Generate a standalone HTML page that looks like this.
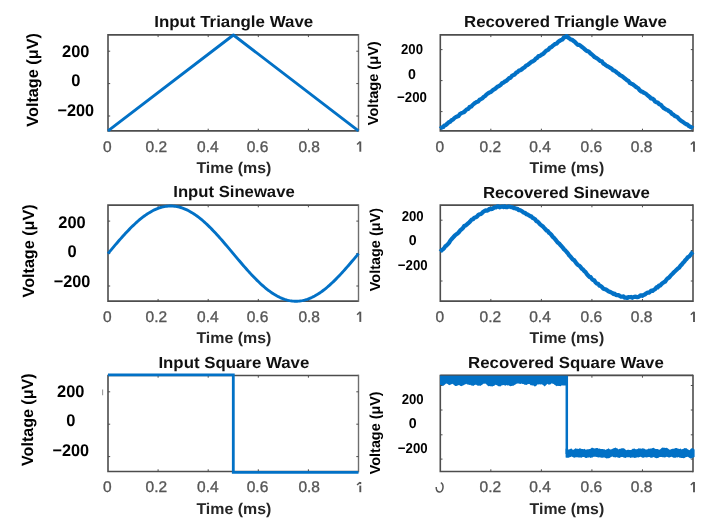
<!DOCTYPE html>
<html><head><meta charset="utf-8"><style>
html,body{margin:0;padding:0;background:#fff;}
svg{display:block;font-family:"Liberation Sans",sans-serif;text-rendering:geometricPrecision;filter:blur(0.3px);}
</style></head><body>
<svg width="709" height="525" viewBox="0 0 709 525">
<rect width="709" height="525" fill="#fff"/>
<path d="M108.0 34.9H358.5M108.0 130.9H358.5M108.0 34.1V131.70000000000002" fill="none" stroke="#4d4d4d" stroke-width="1.6"/>
<path d="M358.5 34.1V131.70000000000002" fill="none" stroke="#6e6e6e" stroke-width="1.4"/>
<path d="M158.10 130.9v-2.2M158.10 34.9v2.2M208.20 130.9v-2.2M208.20 34.9v2.2M258.30 130.9v-2.2M258.30 34.9v2.2M308.40 130.9v-2.2M308.40 34.9v2.2M108.0 51.2h2.2M358.5 51.2h-2.2M108.0 83.6h2.2M358.5 83.6h-2.2M108.0 116.0h2.2M358.5 116.0h-2.2" stroke="#4d4d4d" stroke-width="1.0" fill="none"/>
<path d="M440.3 34.9H693.0M440.3 130.9H693.0M440.3 34.1V131.70000000000002" fill="none" stroke="#4d4d4d" stroke-width="1.6"/>
<path d="M693.0 34.1V131.70000000000002" fill="none" stroke="#4d4d4d" stroke-width="1.6"/>
<path d="M490.84 130.9v-2.2M490.84 34.9v2.2M541.38 130.9v-2.2M541.38 34.9v2.2M591.92 130.9v-2.2M591.92 34.9v2.2M642.46 130.9v-2.2M642.46 34.9v2.2M440.3 49.6h2.2M693.0 49.6h-2.2M440.3 80.6h2.2M693.0 80.6h-2.2M440.3 111.6h2.2M693.0 111.6h-2.2" stroke="#4d4d4d" stroke-width="1.0" fill="none"/>
<path d="M108.0 205.1H358.5M108.0 301.15H358.5M108.0 204.29999999999998V301.95" fill="none" stroke="#4d4d4d" stroke-width="1.6"/>
<path d="M358.5 204.29999999999998V301.95" fill="none" stroke="#6e6e6e" stroke-width="1.4"/>
<path d="M158.10 301.15v-2.2M158.10 205.1v2.2M208.20 301.15v-2.2M208.20 205.1v2.2M258.30 301.15v-2.2M258.30 205.1v2.2M308.40 301.15v-2.2M308.40 205.1v2.2M108.0 221.1h2.2M358.5 221.1h-2.2M108.0 253.5h2.2M358.5 253.5h-2.2M108.0 286.0h2.2M358.5 286.0h-2.2" stroke="#4d4d4d" stroke-width="1.0" fill="none"/>
<path d="M440.3 205.1H693.0M440.3 301.15H693.0M440.3 204.29999999999998V301.95" fill="none" stroke="#4d4d4d" stroke-width="1.6"/>
<path d="M693.0 204.29999999999998V301.95" fill="none" stroke="#4d4d4d" stroke-width="1.6"/>
<path d="M490.84 301.15v-2.2M490.84 205.1v2.2M541.38 301.15v-2.2M541.38 205.1v2.2M591.92 301.15v-2.2M591.92 205.1v2.2M642.46 301.15v-2.2M642.46 205.1v2.2M440.3 220.2h2.2M693.0 220.2h-2.2M440.3 250.6h2.2M693.0 250.6h-2.2M440.3 281.0h2.2M693.0 281.0h-2.2" stroke="#4d4d4d" stroke-width="1.0" fill="none"/>
<path d="M108.0 375.5H358.5M108.0 471.5H358.5M108.0 374.7V472.3" fill="none" stroke="#4d4d4d" stroke-width="1.6"/>
<path d="M358.5 374.7V472.3" fill="none" stroke="#6e6e6e" stroke-width="1.4"/>
<path d="M158.10 471.5v-2.2M158.10 375.5v2.2M208.20 471.5v-2.2M208.20 375.5v2.2M258.30 471.5v-2.2M258.30 375.5v2.2M308.40 471.5v-2.2M308.40 375.5v2.2M108.0 391.8h2.2M358.5 391.8h-2.2M108.0 424.2h2.2M358.5 424.2h-2.2M108.0 456.6h2.2M358.5 456.6h-2.2" stroke="#4d4d4d" stroke-width="1.0" fill="none"/>
<path d="M440.3 375.5H693.0M440.3 471.5H693.0M440.3 374.7V472.3" fill="none" stroke="#4d4d4d" stroke-width="1.6"/>
<path d="M693.0 374.7V472.3" fill="none" stroke="#4d4d4d" stroke-width="1.6"/>
<path d="M490.84 471.5v-2.2M490.84 375.5v2.2M541.38 471.5v-2.2M541.38 375.5v2.2M591.92 471.5v-2.2M591.92 375.5v2.2M642.46 471.5v-2.2M642.46 375.5v2.2M440.3 385.5h2.2M693.0 385.5h-2.2M440.3 410.0h2.2M693.0 410.0h-2.2M440.3 434.8h2.2M693.0 434.8h-2.2M440.3 459.1h2.2M693.0 459.1h-2.2" stroke="#4d4d4d" stroke-width="1.0" fill="none"/>
<path d="M108.0 130.8 L233.4 35.0 L358.5 130.8" stroke="#0271c6" stroke-width="2.9" fill="none" stroke-linejoin="round"/>
<path d="M108.00 253.60 L109.25 252.10 L110.50 250.61 L111.76 249.12 L113.01 247.63 L114.26 246.15 L115.52 244.68 L116.77 243.22 L118.02 241.76 L119.27 240.32 L120.53 238.89 L121.78 237.48 L123.03 236.08 L124.28 234.70 L125.53 233.33 L126.79 231.99 L128.04 230.67 L129.29 229.37 L130.54 228.09 L131.80 226.84 L133.05 225.62 L134.30 224.43 L135.56 223.26 L136.81 222.12 L138.06 221.02 L139.31 219.94 L140.56 218.90 L141.82 217.89 L143.07 216.92 L144.32 215.99 L145.57 215.09 L146.83 214.23 L148.08 213.41 L149.33 212.63 L150.59 211.89 L151.84 211.19 L153.09 210.53 L154.34 209.91 L155.59 209.34 L156.85 208.81 L158.10 208.33 L159.35 207.89 L160.60 207.50 L161.86 207.15 L163.11 206.84 L164.36 206.59 L165.62 206.38 L166.87 206.21 L168.12 206.09 L169.37 206.02 L170.62 206.00 L171.88 206.02 L173.13 206.09 L174.38 206.21 L175.63 206.38 L176.89 206.59 L178.14 206.84 L179.39 207.15 L180.64 207.50 L181.90 207.89 L183.15 208.33 L184.40 208.81 L185.66 209.34 L186.91 209.91 L188.16 210.53 L189.41 211.19 L190.67 211.89 L191.92 212.63 L193.17 213.41 L194.42 214.23 L195.68 215.09 L196.93 215.99 L198.18 216.92 L199.43 217.89 L200.69 218.90 L201.94 219.94 L203.19 221.02 L204.44 222.12 L205.69 223.26 L206.95 224.43 L208.20 225.62 L209.45 226.84 L210.70 228.09 L211.96 229.37 L213.21 230.67 L214.46 231.99 L215.72 233.33 L216.97 234.70 L218.22 236.08 L219.47 237.48 L220.73 238.89 L221.98 240.32 L223.23 241.76 L224.48 243.22 L225.74 244.68 L226.99 246.15 L228.24 247.63 L229.49 249.12 L230.75 250.61 L232.00 252.10 L233.25 253.60 L234.50 255.10 L235.75 256.59 L237.01 258.08 L238.26 259.57 L239.51 261.05 L240.77 262.52 L242.02 263.98 L243.27 265.44 L244.52 266.88 L245.78 268.31 L247.03 269.72 L248.28 271.12 L249.53 272.50 L250.78 273.87 L252.04 275.21 L253.29 276.53 L254.54 277.83 L255.79 279.11 L257.05 280.36 L258.30 281.58 L259.55 282.77 L260.81 283.94 L262.06 285.08 L263.31 286.18 L264.56 287.26 L265.81 288.30 L267.07 289.31 L268.32 290.28 L269.57 291.21 L270.83 292.11 L272.08 292.97 L273.33 293.79 L274.58 294.57 L275.84 295.31 L277.09 296.01 L278.34 296.67 L279.59 297.29 L280.85 297.86 L282.10 298.39 L283.35 298.87 L284.60 299.31 L285.86 299.70 L287.11 300.05 L288.36 300.36 L289.61 300.61 L290.87 300.82 L292.12 300.99 L293.37 301.11 L294.62 301.18 L295.88 301.20 L297.13 301.18 L298.38 301.11 L299.63 300.99 L300.88 300.82 L302.14 300.61 L303.39 300.36 L304.64 300.05 L305.89 299.70 L307.15 299.31 L308.40 298.87 L309.65 298.39 L310.90 297.86 L312.16 297.29 L313.41 296.67 L314.66 296.01 L315.91 295.31 L317.17 294.57 L318.42 293.79 L319.67 292.97 L320.92 292.11 L322.18 291.21 L323.43 290.28 L324.68 289.31 L325.94 288.30 L327.19 287.26 L328.44 286.18 L329.69 285.08 L330.94 283.94 L332.20 282.77 L333.45 281.58 L334.70 280.36 L335.96 279.11 L337.21 277.83 L338.46 276.53 L339.71 275.21 L340.97 273.87 L342.22 272.50 L343.47 271.12 L344.72 269.72 L345.98 268.31 L347.23 266.88 L348.48 265.44 L349.73 263.98 L350.99 262.52 L352.24 261.05 L353.49 259.57 L354.74 258.08 L356.00 256.59 L357.25 255.10 L358.50 253.60" stroke="#0271c6" stroke-width="2.9" fill="none"/>
<path d="M108.0 374.9 H233.3 V472.4 H358.5" stroke="#0271c6" stroke-width="2.8" fill="none"/>
<path d="M440.30 128.79 L441.70 127.55 L443.11 127.11 L444.51 125.39 L445.92 124.91 L447.32 123.67 L448.72 122.27 L450.13 121.78 L451.53 120.18 L452.94 119.62 L454.34 118.15 L455.74 117.14 L457.15 116.51 L458.55 115.96 L459.95 114.08 L461.36 113.17 L462.76 112.62 L464.17 111.97 L465.57 110.49 L466.97 109.24 L468.38 108.90 L469.78 106.76 L471.19 106.70 L472.59 104.98 L473.99 103.77 L475.40 102.71 L476.80 101.90 L478.20 101.48 L479.61 99.68 L481.01 99.13 L482.42 98.17 L483.82 96.81 L485.22 95.99 L486.63 94.38 L488.03 93.34 L489.44 92.48 L490.84 92.02 L492.24 90.68 L493.65 89.51 L495.05 88.80 L496.46 87.61 L497.86 86.39 L499.26 85.95 L500.67 84.81 L502.07 83.23 L503.48 82.59 L504.88 81.50 L506.28 80.88 L507.69 79.68 L509.09 78.11 L510.49 77.91 L511.90 75.84 L513.30 75.17 L514.71 74.54 L516.11 72.78 L517.51 72.15 L518.92 70.58 L520.32 70.30 L521.73 69.38 L523.13 68.12 L524.53 67.45 L525.94 65.74 L527.34 65.17 L528.75 64.01 L530.15 62.96 L531.55 61.78 L532.96 61.21 L534.36 60.30 L535.76 58.70 L537.17 57.90 L538.57 56.14 L539.98 55.88 L541.38 54.78 L542.78 54.16 L544.19 52.92 L545.59 51.24 L547.00 50.33 L548.40 49.64 L549.80 47.83 L551.21 47.32 L552.61 45.93 L554.01 44.84 L555.42 43.74 L556.82 43.56 L558.23 41.76 L559.63 40.86 L561.03 40.00 L562.44 39.55 L563.84 37.56 L565.25 36.97 L566.65 36.06 L568.05 37.49 L569.46 38.45 L570.86 39.54 L572.27 39.87 L573.67 41.07 L575.07 42.03 L576.48 43.69 L577.88 44.82 L579.29 44.88 L580.69 45.94 L582.09 47.05 L583.50 48.08 L584.90 49.42 L586.30 50.57 L587.71 51.22 L589.11 51.94 L590.52 53.47 L591.92 54.44 L593.32 55.71 L594.73 57.21 L596.13 57.93 L597.54 58.75 L598.94 59.91 L600.34 61.01 L601.75 61.30 L603.15 63.35 L604.56 64.24 L605.96 65.38 L607.36 66.32 L608.77 66.87 L610.17 67.91 L611.57 68.59 L612.98 70.26 L614.38 70.61 L615.79 71.65 L617.19 72.85 L618.59 73.83 L620.00 75.07 L621.40 75.76 L622.81 76.73 L624.21 77.95 L625.61 78.92 L627.02 80.27 L628.42 80.90 L629.83 82.95 L631.23 83.67 L632.63 84.14 L634.04 85.30 L635.44 86.45 L636.84 87.50 L638.25 88.25 L639.65 90.15 L641.06 91.36 L642.46 91.76 L643.86 92.81 L645.27 93.37 L646.67 94.42 L648.08 95.74 L649.48 96.68 L650.88 98.39 L652.29 98.63 L653.69 99.49 L655.10 101.64 L656.50 102.17 L657.90 102.74 L659.31 104.25 L660.71 104.67 L662.11 106.30 L663.52 107.87 L664.92 108.77 L666.33 109.60 L667.73 110.11 L669.13 111.27 L670.54 112.07 L671.94 113.83 L673.35 114.57 L674.75 115.90 L676.15 116.40 L677.56 117.30 L678.96 119.04 L680.37 120.28 L681.77 121.16 L683.17 122.13 L684.58 123.18 L685.98 124.12 L687.38 124.54 L688.79 125.92 L690.19 126.76 L691.60 127.40 L693.00 128.43" stroke="#0271c6" stroke-width="4.2" fill="none" stroke-linejoin="round"/>
<path d="M440.30 251.74 L441.56 250.28 L442.83 249.37 L444.09 248.27 L445.35 246.23 L446.62 245.41 L447.88 244.06 L449.14 242.62 L450.41 240.52 L451.67 238.97 L452.94 237.61 L454.20 236.22 L455.46 234.90 L456.73 234.08 L457.99 233.11 L459.25 231.75 L460.52 230.06 L461.78 229.02 L463.04 227.98 L464.31 225.93 L465.57 225.45 L466.83 224.60 L468.10 223.34 L469.36 222.21 L470.62 220.83 L471.89 219.44 L473.15 219.18 L474.41 217.67 L475.68 217.30 L476.94 216.61 L478.20 215.06 L479.47 214.25 L480.73 214.12 L482.00 213.11 L483.26 211.73 L484.52 211.01 L485.79 210.41 L487.05 210.73 L488.31 210.06 L489.58 208.77 L490.84 209.12 L492.10 208.88 L493.37 208.12 L494.63 207.42 L495.89 207.36 L497.16 206.62 L498.42 206.28 L499.68 207.27 L500.95 206.77 L502.21 206.55 L503.48 207.02 L504.74 206.44 L506.00 207.04 L507.27 207.09 L508.53 206.51 L509.79 206.76 L511.06 207.06 L512.32 207.28 L513.58 208.03 L514.85 208.02 L516.11 208.63 L517.37 208.75 L518.64 210.19 L519.90 210.07 L521.16 210.78 L522.43 211.56 L523.69 212.61 L524.95 212.74 L526.22 214.08 L527.48 214.37 L528.75 215.23 L530.01 216.08 L531.27 216.36 L532.54 217.80 L533.80 218.45 L535.06 219.23 L536.33 221.21 L537.59 221.52 L538.85 222.97 L540.12 224.38 L541.38 225.32 L542.64 226.22 L543.91 227.64 L545.17 228.91 L546.43 230.42 L547.70 230.87 L548.96 232.70 L550.22 233.63 L551.49 234.98 L552.75 236.91 L554.01 237.95 L555.28 239.38 L556.54 241.00 L557.81 242.57 L559.07 243.41 L560.33 245.02 L561.60 246.30 L562.86 247.73 L564.12 249.37 L565.39 250.51 L566.65 252.04 L567.91 253.40 L569.18 255.39 L570.44 256.52 L571.70 258.15 L572.97 259.65 L574.23 260.24 L575.49 262.00 L576.76 263.85 L578.02 265.10 L579.29 265.62 L580.55 266.96 L581.81 268.68 L583.08 269.56 L584.34 271.06 L585.60 272.14 L586.87 274.12 L588.13 275.50 L589.39 276.86 L590.66 277.16 L591.92 279.00 L593.18 280.08 L594.45 280.57 L595.71 282.55 L596.97 283.71 L598.24 283.84 L599.50 285.71 L600.76 286.01 L602.03 287.04 L603.29 288.54 L604.56 289.21 L605.82 289.23 L607.08 290.33 L608.35 291.18 L609.61 291.68 L610.87 292.18 L612.14 292.95 L613.40 294.02 L614.66 293.73 L615.93 294.87 L617.19 295.20 L618.45 295.12 L619.72 295.87 L620.98 296.55 L622.24 296.71 L623.51 296.42 L624.77 297.72 L626.03 297.64 L627.30 297.98 L628.56 297.00 L629.83 297.22 L631.09 296.93 L632.35 297.75 L633.62 297.02 L634.88 296.70 L636.14 296.85 L637.41 297.19 L638.67 296.79 L639.93 295.78 L641.20 295.27 L642.46 295.78 L643.72 294.89 L644.99 294.55 L646.25 293.27 L647.51 292.64 L648.78 292.77 L650.04 291.78 L651.30 290.65 L652.57 290.94 L653.83 289.79 L655.10 289.17 L656.36 287.45 L657.62 287.49 L658.89 285.61 L660.15 285.60 L661.41 284.12 L662.68 282.95 L663.94 282.15 L665.20 281.51 L666.47 279.61 L667.73 278.30 L668.99 277.61 L670.26 276.07 L671.52 274.69 L672.78 273.51 L674.05 272.12 L675.31 271.02 L676.57 269.84 L677.84 268.52 L679.10 267.72 L680.37 265.81 L681.63 264.69 L682.89 262.93 L684.16 261.74 L685.42 259.95 L686.68 258.82 L687.95 257.12 L689.21 256.56 L690.47 254.92 L691.74 253.06 L693.00 251.97" stroke="#0271c6" stroke-width="4.2" fill="none" stroke-linejoin="round"/>
<path d="M440.00 375.40 L441.01 375.40 L442.01 375.40 L443.02 375.40 L444.03 375.40 L445.03 375.40 L446.04 375.40 L447.04 375.40 L448.05 375.40 L449.06 375.40 L450.06 375.40 L451.07 375.40 L452.08 375.40 L453.08 375.40 L454.09 375.40 L455.09 375.40 L456.10 375.40 L457.11 375.40 L458.11 375.40 L459.12 375.40 L460.13 375.40 L461.13 375.40 L462.14 375.40 L463.14 375.40 L464.15 375.40 L465.16 375.40 L466.16 375.40 L467.17 375.40 L468.18 375.40 L469.18 375.40 L470.19 375.40 L471.20 375.40 L472.20 375.40 L473.21 375.40 L474.21 375.40 L475.22 375.40 L476.23 375.40 L477.23 375.40 L478.24 375.40 L479.25 375.40 L480.25 375.40 L481.26 375.40 L482.26 375.40 L483.27 375.40 L484.28 375.40 L485.28 375.40 L486.29 375.40 L487.30 375.40 L488.30 375.40 L489.31 375.40 L490.31 375.40 L491.32 375.40 L492.33 375.40 L493.33 375.40 L494.34 375.40 L495.35 375.40 L496.35 375.40 L497.36 375.40 L498.37 375.40 L499.37 375.40 L500.38 375.40 L501.38 375.40 L502.39 375.40 L503.40 375.40 L504.40 375.40 L505.41 375.40 L506.42 375.40 L507.42 375.40 L508.43 375.40 L509.43 375.40 L510.44 375.40 L511.45 375.40 L512.45 375.40 L513.46 375.40 L514.47 375.40 L515.47 375.40 L516.48 375.40 L517.49 375.40 L518.49 375.40 L519.50 375.40 L520.50 375.40 L521.51 375.40 L522.52 375.40 L523.52 375.40 L524.53 375.40 L525.54 375.40 L526.54 375.40 L527.55 375.40 L528.55 375.40 L529.56 375.40 L530.57 375.40 L531.57 375.40 L532.58 375.40 L533.59 375.40 L534.59 375.40 L535.60 375.40 L536.60 375.40 L537.61 375.40 L538.62 375.40 L539.62 375.40 L540.63 375.40 L541.64 375.40 L542.64 375.40 L543.65 375.40 L544.66 375.40 L545.66 375.40 L546.67 375.40 L547.67 375.40 L548.68 375.40 L549.69 375.40 L550.69 375.40 L551.70 375.40 L552.71 375.40 L553.71 375.40 L554.72 375.40 L555.72 375.40 L556.73 375.40 L557.74 375.40 L558.74 375.40 L559.75 375.40 L560.76 375.40 L561.76 375.40 L562.77 375.40 L563.77 375.40 L564.78 375.40 L565.79 375.40 L566.79 375.40 L567.80 375.40 L567.80 385.68 L566.79 384.93 L565.79 385.51 L564.78 385.53 L563.77 385.48 L562.77 385.49 L561.76 385.28 L560.76 386.15 L559.75 385.91 L558.74 386.12 L557.74 385.71 L556.73 386.15 L555.72 385.51 L554.72 384.98 L553.71 384.12 L552.71 383.71 L551.70 383.30 L550.69 384.32 L549.69 384.50 L548.68 384.64 L547.67 383.67 L546.67 384.54 L545.66 385.58 L544.66 386.45 L543.65 385.62 L542.64 384.69 L541.64 384.13 L540.63 384.40 L539.62 384.27 L538.62 384.50 L537.61 384.21 L536.60 385.40 L535.60 386.18 L534.59 386.60 L533.59 385.54 L532.58 385.53 L531.57 385.17 L530.57 385.34 L529.56 383.91 L528.55 384.02 L527.55 384.19 L526.54 384.94 L525.54 384.67 L524.53 384.71 L523.52 383.98 L522.52 384.07 L521.51 383.45 L520.50 384.04 L519.50 383.71 L518.49 383.61 L517.49 383.47 L516.48 383.75 L515.47 384.59 L514.47 384.92 L513.46 385.69 L512.45 385.79 L511.45 386.07 L510.44 386.26 L509.43 385.86 L508.43 385.29 L507.42 385.44 L506.42 385.09 L505.41 385.68 L504.40 385.17 L503.40 385.01 L502.39 385.18 L501.38 385.55 L500.38 386.41 L499.37 386.26 L498.37 386.14 L497.36 385.42 L496.35 385.11 L495.35 384.65 L494.34 385.68 L493.33 386.10 L492.33 386.58 L491.32 386.21 L490.31 386.34 L489.31 386.12 L488.30 386.29 L487.30 385.30 L486.29 384.34 L485.28 383.51 L484.28 383.70 L483.27 383.81 L482.26 384.85 L481.26 385.14 L480.25 385.92 L479.25 385.61 L478.24 385.79 L477.23 385.58 L476.23 384.66 L475.22 384.83 L474.21 385.22 L473.21 385.96 L472.20 385.57 L471.20 385.44 L470.19 384.79 L469.18 385.09 L468.18 384.49 L467.17 384.50 L466.16 383.80 L465.16 384.51 L464.15 384.70 L463.14 385.40 L462.14 385.77 L461.13 386.20 L460.13 385.67 L459.12 384.93 L458.11 385.21 L457.11 385.78 L456.10 385.99 L455.09 385.93 L454.09 384.90 L453.08 384.21 L452.08 383.63 L451.07 384.62 L450.06 384.85 L449.06 385.32 L448.05 384.23 L447.04 383.87 L446.04 383.43 L445.03 384.41 L444.03 385.34 L443.02 385.95 L442.01 385.38 L441.01 385.12 L440.00 384.81Z" fill="#0271c6"/>
<path d="M565.60 448.82 L566.60 448.51 L567.60 449.50 L568.60 449.55 L569.60 449.34 L570.60 448.74 L571.60 448.61 L572.60 449.71 L573.60 449.69 L574.60 449.06 L575.60 448.18 L576.60 448.76 L577.60 448.69 L578.60 449.12 L579.60 448.19 L580.60 448.55 L581.60 448.98 L582.60 448.97 L583.60 449.31 L584.60 448.80 L585.60 449.67 L586.60 449.53 L587.60 449.21 L588.60 449.23 L589.60 448.98 L590.60 448.74 L591.60 447.71 L592.60 447.71 L593.60 448.20 L594.60 448.55 L595.60 448.14 L596.60 448.02 L597.60 448.04 L598.60 448.84 L599.60 448.45 L600.60 448.95 L601.60 448.95 L602.60 449.09 L603.60 449.29 L604.60 449.14 L605.60 450.04 L606.60 449.31 L607.60 448.92 L608.60 448.33 L609.60 449.15 L610.60 449.40 L611.60 449.36 L612.60 448.70 L613.60 448.34 L614.60 447.98 L615.60 447.60 L616.60 448.25 L617.60 448.52 L618.60 449.48 L619.60 448.81 L620.60 448.79 L621.60 448.30 L622.60 448.23 L623.60 448.35 L624.60 448.87 L625.60 449.67 L626.60 450.17 L627.60 449.80 L628.60 449.83 L629.60 449.98 L630.60 449.89 L631.60 449.66 L632.60 448.63 L633.60 448.84 L634.60 448.53 L635.60 449.35 L636.60 449.24 L637.60 449.05 L638.60 448.24 L639.60 448.57 L640.60 448.39 L641.60 448.87 L642.60 448.20 L643.60 448.40 L644.60 448.71 L645.60 449.44 L646.60 449.39 L647.60 449.30 L648.60 448.52 L649.60 448.86 L650.60 448.56 L651.60 448.40 L652.60 447.95 L653.60 447.73 L654.60 448.58 L655.60 448.97 L656.60 448.99 L657.60 448.99 L658.60 449.56 L659.60 449.83 L660.60 448.94 L661.60 448.01 L662.60 447.60 L663.60 447.83 L664.60 447.72 L665.60 447.89 L666.60 447.79 L667.60 448.34 L668.60 449.09 L669.60 449.66 L670.60 449.48 L671.60 448.93 L672.60 448.67 L673.60 448.63 L674.60 448.54 L675.60 448.01 L676.60 447.89 L677.60 448.62 L678.60 448.69 L679.60 448.96 L680.60 448.57 L681.60 449.42 L682.60 449.08 L683.60 448.67 L684.60 447.96 L685.60 448.17 L686.60 448.37 L687.60 449.19 L688.60 449.71 L689.60 450.20 L690.60 449.12 L691.60 448.18 L692.60 447.99 L693.60 449.00 L694.60 449.51 L694.60 457.07 L693.60 457.34 L692.60 457.99 L691.60 458.36 L690.60 458.39 L689.60 457.94 L688.60 457.34 L687.60 456.70 L686.60 456.91 L685.60 457.37 L684.60 457.99 L683.60 458.15 L682.60 458.12 L681.60 457.98 L680.60 457.77 L679.60 457.70 L678.60 457.12 L677.60 457.38 L676.60 457.13 L675.60 457.82 L674.60 457.72 L673.60 457.77 L672.60 457.14 L671.60 456.83 L670.60 457.10 L669.60 457.55 L668.60 457.44 L667.60 456.99 L666.60 456.85 L665.60 457.22 L664.60 457.48 L663.60 457.24 L662.60 457.25 L661.60 456.95 L660.60 457.01 L659.60 456.90 L658.60 457.65 L657.60 457.93 L656.60 458.26 L655.60 457.88 L654.60 457.55 L653.60 457.05 L652.60 457.43 L651.60 457.81 L650.60 457.85 L649.60 457.11 L648.60 456.95 L647.60 457.24 L646.60 457.55 L645.60 457.36 L644.60 457.36 L643.60 457.76 L642.60 457.73 L641.60 457.23 L640.60 456.77 L639.60 456.92 L638.60 457.43 L637.60 457.32 L636.60 457.62 L635.60 457.66 L634.60 457.91 L633.60 457.44 L632.60 457.62 L631.60 457.47 L630.60 457.96 L629.60 457.37 L628.60 457.30 L627.60 457.25 L626.60 457.30 L625.60 457.88 L624.60 457.67 L623.60 457.59 L622.60 457.01 L621.60 456.95 L620.60 457.33 L619.60 457.90 L618.60 457.69 L617.60 457.47 L616.60 456.89 L615.60 457.54 L614.60 457.34 L613.60 457.22 L612.60 456.49 L611.60 456.69 L610.60 457.36 L609.60 458.01 L608.60 458.28 L607.60 458.36 L606.60 458.40 L605.60 458.08 L604.60 457.44 L603.60 457.44 L602.60 457.77 L601.60 457.65 L600.60 457.43 L599.60 457.14 L598.60 457.41 L597.60 457.15 L596.60 456.98 L595.60 456.69 L594.60 456.65 L593.60 456.79 L592.60 457.55 L591.60 457.42 L590.60 457.91 L589.60 457.32 L588.60 457.50 L587.60 457.39 L586.60 457.88 L585.60 457.94 L584.60 457.32 L583.60 457.05 L582.60 457.00 L581.60 457.69 L580.60 457.47 L579.60 457.46 L578.60 457.44 L577.60 457.31 L576.60 457.35 L575.60 457.28 L574.60 457.87 L573.60 457.57 L572.60 456.96 L571.60 456.40 L570.60 457.10 L569.60 457.27 L568.60 457.82 L567.60 457.80 L566.60 457.86 L565.60 457.49Z" fill="#0271c6"/>
<path d="M566.8 376 V454" stroke="#0271c6" stroke-width="2.5"/>
<path d="M440.3 375.0 H693.0" stroke="#4d4d4d" stroke-width="1.0" opacity="0.8"/>
<text x="154.2" y="27.1" font-size="16" font-weight="bold" fill="#111" textLength="159.0" lengthAdjust="spacingAndGlyphs">Input Triangle Wave</text>
<text x="464.0" y="27.1" font-size="16" font-weight="bold" fill="#111" textLength="202.9" lengthAdjust="spacingAndGlyphs">Recovered Triangle Wave</text>
<text x="173.3" y="197.4" font-size="16" font-weight="bold" fill="#111" textLength="121.4" lengthAdjust="spacingAndGlyphs">Input Sinewave</text>
<text x="482.9" y="197.6" font-size="16" font-weight="bold" fill="#111" textLength="167.0" lengthAdjust="spacingAndGlyphs">Recovered Sinewave</text>
<text x="158.4" y="367.6" font-size="16" font-weight="bold" fill="#111" textLength="150.9" lengthAdjust="spacingAndGlyphs">Input Square Wave</text>
<text x="468.1" y="368.0" font-size="16" font-weight="bold" fill="#111" textLength="195.7" lengthAdjust="spacingAndGlyphs">Recovered Square Wave</text>
<text x="196.4" y="173.1" font-size="15.5" font-weight="bold" fill="#262626" textLength="74.9" lengthAdjust="spacingAndGlyphs">Time (ms)</text>
<text x="529.6" y="173.1" font-size="15.5" font-weight="bold" fill="#262626" textLength="74.6" lengthAdjust="spacingAndGlyphs">Time (ms)</text>
<text x="196.4" y="343.3" font-size="15.5" font-weight="bold" fill="#262626" textLength="74.9" lengthAdjust="spacingAndGlyphs">Time (ms)</text>
<text x="529.6" y="343.3" font-size="15.5" font-weight="bold" fill="#262626" textLength="74.6" lengthAdjust="spacingAndGlyphs">Time (ms)</text>
<text x="196.4" y="513.7" font-size="15.5" font-weight="bold" fill="#262626" textLength="74.9" lengthAdjust="spacingAndGlyphs">Time (ms)</text>
<text x="529.6" y="513.7" font-size="15.5" font-weight="bold" fill="#262626" textLength="74.6" lengthAdjust="spacingAndGlyphs">Time (ms)</text>
<text x="107.2" y="151.8" font-size="15.5" font-weight="normal" fill="#555" text-anchor="middle" stroke="#555" stroke-width="0.35">0</text>
<text x="156.3" y="151.8" font-size="15.5" font-weight="normal" fill="#555" text-anchor="middle" stroke="#555" stroke-width="0.35">0.2</text>
<text x="207.9" y="151.8" font-size="15.5" font-weight="normal" fill="#555" text-anchor="middle" stroke="#555" stroke-width="0.35">0.4</text>
<text x="257.5" y="151.8" font-size="15.5" font-weight="normal" fill="#555" text-anchor="middle" stroke="#555" stroke-width="0.35">0.6</text>
<text x="309.2" y="151.8" font-size="15.5" font-weight="normal" fill="#555" text-anchor="middle" stroke="#555" stroke-width="0.35">0.8</text>
<path d="M360.3 141.5V151.7" stroke="#555" stroke-width="1.9"/>
<path d="M360.0 141.8L357.1 144.5" stroke="#555" stroke-width="1.5"/>
<text x="439.7" y="151.8" font-size="15.5" font-weight="normal" fill="#555" text-anchor="middle" stroke="#555" stroke-width="0.35">0</text>
<text x="490.3" y="151.8" font-size="15.5" font-weight="normal" fill="#555" text-anchor="middle" stroke="#555" stroke-width="0.35">0.2</text>
<text x="540.0" y="151.8" font-size="15.5" font-weight="normal" fill="#555" text-anchor="middle" stroke="#555" stroke-width="0.35">0.4</text>
<text x="591.4" y="151.8" font-size="15.5" font-weight="normal" fill="#555" text-anchor="middle" stroke="#555" stroke-width="0.35">0.6</text>
<text x="641.6" y="151.8" font-size="15.5" font-weight="normal" fill="#555" text-anchor="middle" stroke="#555" stroke-width="0.35">0.8</text>
<path d="M694.0 141.5V151.7" stroke="#555" stroke-width="1.9"/>
<path d="M693.7 141.8L690.8 144.5" stroke="#555" stroke-width="1.5"/>
<text x="107.2" y="322.0" font-size="15.5" font-weight="normal" fill="#555" text-anchor="middle" stroke="#555" stroke-width="0.35">0</text>
<text x="156.3" y="322.0" font-size="15.5" font-weight="normal" fill="#555" text-anchor="middle" stroke="#555" stroke-width="0.35">0.2</text>
<text x="207.9" y="322.0" font-size="15.5" font-weight="normal" fill="#555" text-anchor="middle" stroke="#555" stroke-width="0.35">0.4</text>
<text x="257.5" y="322.0" font-size="15.5" font-weight="normal" fill="#555" text-anchor="middle" stroke="#555" stroke-width="0.35">0.6</text>
<text x="309.2" y="322.0" font-size="15.5" font-weight="normal" fill="#555" text-anchor="middle" stroke="#555" stroke-width="0.35">0.8</text>
<path d="M360.3 311.7V321.9" stroke="#555" stroke-width="1.9"/>
<path d="M360.0 312.0L357.1 314.7" stroke="#555" stroke-width="1.5"/>
<text x="439.7" y="322.0" font-size="15.5" font-weight="normal" fill="#555" text-anchor="middle" stroke="#555" stroke-width="0.35">0</text>
<text x="490.3" y="322.0" font-size="15.5" font-weight="normal" fill="#555" text-anchor="middle" stroke="#555" stroke-width="0.35">0.2</text>
<text x="540.0" y="322.0" font-size="15.5" font-weight="normal" fill="#555" text-anchor="middle" stroke="#555" stroke-width="0.35">0.4</text>
<text x="591.4" y="322.0" font-size="15.5" font-weight="normal" fill="#555" text-anchor="middle" stroke="#555" stroke-width="0.35">0.6</text>
<text x="641.6" y="322.0" font-size="15.5" font-weight="normal" fill="#555" text-anchor="middle" stroke="#555" stroke-width="0.35">0.8</text>
<path d="M694.0 311.7V321.9" stroke="#555" stroke-width="1.9"/>
<path d="M693.7 312.0L690.8 314.7" stroke="#555" stroke-width="1.5"/>
<text x="107.2" y="492.3" font-size="15.5" font-weight="normal" fill="#555" text-anchor="middle" stroke="#555" stroke-width="0.35">0</text>
<text x="156.3" y="492.3" font-size="15.5" font-weight="normal" fill="#555" text-anchor="middle" stroke="#555" stroke-width="0.35">0.2</text>
<text x="207.9" y="492.3" font-size="15.5" font-weight="normal" fill="#555" text-anchor="middle" stroke="#555" stroke-width="0.35">0.4</text>
<text x="257.5" y="492.3" font-size="15.5" font-weight="normal" fill="#555" text-anchor="middle" stroke="#555" stroke-width="0.35">0.6</text>
<text x="309.2" y="492.3" font-size="15.5" font-weight="normal" fill="#555" text-anchor="middle" stroke="#555" stroke-width="0.35">0.8</text>
<path d="M360.3 482.0V492.2" stroke="#555" stroke-width="1.9"/>
<path d="M360.0 482.3L357.1 485.0" stroke="#555" stroke-width="1.5"/>
<text x="490.3" y="492.3" font-size="15.5" font-weight="normal" fill="#555" text-anchor="middle" stroke="#555" stroke-width="0.35">0.2</text>
<text x="540.0" y="492.3" font-size="15.5" font-weight="normal" fill="#555" text-anchor="middle" stroke="#555" stroke-width="0.35">0.4</text>
<text x="591.4" y="492.3" font-size="15.5" font-weight="normal" fill="#555" text-anchor="middle" stroke="#555" stroke-width="0.35">0.6</text>
<text x="641.6" y="492.3" font-size="15.5" font-weight="normal" fill="#555" text-anchor="middle" stroke="#555" stroke-width="0.35">0.8</text>
<path d="M694.0 482.0V492.2" stroke="#555" stroke-width="1.9"/>
<path d="M693.7 482.3L690.8 485.0" stroke="#555" stroke-width="1.5"/>
<path d="M440.8 482.6 A3.4 4.9 0 1 1 436.2 487.0" stroke="#555" stroke-width="1.5" fill="none"/>
<path d="M102.6 389.4 V395.2" stroke="#999" stroke-width="1.1"/>
<rect x="359" y="484.1" width="3.5" height="1.5" fill="#fff"/>
<text x="75.8" y="56.5" font-size="17" font-weight="bold" fill="#000" text-anchor="middle" textLength="27.4" lengthAdjust="spacingAndGlyphs">200</text>
<text x="75.8" y="85.7" font-size="17" font-weight="bold" fill="#000" text-anchor="middle" textLength="9.2" lengthAdjust="spacingAndGlyphs">0</text>
<text x="75.8" y="115.5" font-size="17" font-weight="bold" fill="#000" text-anchor="middle" textLength="36.6" lengthAdjust="spacingAndGlyphs">−200</text>
<text x="72.0" y="228.3" font-size="17" font-weight="bold" fill="#000" text-anchor="middle" textLength="27.4" lengthAdjust="spacingAndGlyphs">200</text>
<text x="72.0" y="257.3" font-size="17" font-weight="bold" fill="#000" text-anchor="middle" textLength="9.2" lengthAdjust="spacingAndGlyphs">0</text>
<text x="72.0" y="287.0" font-size="17" font-weight="bold" fill="#000" text-anchor="middle" textLength="36.6" lengthAdjust="spacingAndGlyphs">−200</text>
<text x="70.8" y="397.1" font-size="17" font-weight="bold" fill="#000" text-anchor="middle" textLength="27.4" lengthAdjust="spacingAndGlyphs">200</text>
<text x="70.8" y="426.0" font-size="17" font-weight="bold" fill="#000" text-anchor="middle" textLength="9.2" lengthAdjust="spacingAndGlyphs">0</text>
<text x="70.8" y="456.2" font-size="17" font-weight="bold" fill="#000" text-anchor="middle" textLength="36.6" lengthAdjust="spacingAndGlyphs">−200</text>
<text x="412.0" y="53.9" font-size="14.3" font-weight="bold" fill="#000" text-anchor="middle" textLength="22.0" lengthAdjust="spacingAndGlyphs">200</text>
<text x="412.0" y="78.6" font-size="14.3" font-weight="bold" fill="#000" text-anchor="middle" textLength="7.9" lengthAdjust="spacingAndGlyphs">0</text>
<text x="412.0" y="102.4" font-size="14.3" font-weight="bold" fill="#000" text-anchor="middle" textLength="29.8" lengthAdjust="spacingAndGlyphs">−200</text>
<text x="412.7" y="220.6" font-size="14.3" font-weight="bold" fill="#000" text-anchor="middle" textLength="22.0" lengthAdjust="spacingAndGlyphs">200</text>
<text x="412.7" y="244.9" font-size="14.3" font-weight="bold" fill="#000" text-anchor="middle" textLength="7.9" lengthAdjust="spacingAndGlyphs">0</text>
<text x="412.7" y="269.8" font-size="14.3" font-weight="bold" fill="#000" text-anchor="middle" textLength="29.8" lengthAdjust="spacingAndGlyphs">−200</text>
<text x="412.7" y="403.8" font-size="14.3" font-weight="bold" fill="#000" text-anchor="middle" textLength="22.0" lengthAdjust="spacingAndGlyphs">200</text>
<text x="412.7" y="428.3" font-size="14.3" font-weight="bold" fill="#000" text-anchor="middle" textLength="7.9" lengthAdjust="spacingAndGlyphs">0</text>
<text x="412.7" y="453.0" font-size="14.3" font-weight="bold" fill="#000" text-anchor="middle" textLength="29.8" lengthAdjust="spacingAndGlyphs">−200</text>
<text transform="translate(38.0 126.7) rotate(-90)" font-size="16.3" font-weight="bold" fill="#000" textLength="93.7" lengthAdjust="spacingAndGlyphs">Voltage (μV)</text>
<text transform="translate(34.1 297.4) rotate(-90)" font-size="16.3" font-weight="bold" fill="#000" textLength="93.0" lengthAdjust="spacingAndGlyphs">Voltage (μV)</text>
<text transform="translate(32.9 465.9) rotate(-90)" font-size="16.3" font-weight="bold" fill="#000" textLength="92.5" lengthAdjust="spacingAndGlyphs">Voltage (μV)</text>
<text transform="translate(378.3 125.2) rotate(-90)" font-size="14.5" font-weight="bold" fill="#000" textLength="83.9" lengthAdjust="spacingAndGlyphs">Voltage (μV)</text>
<text transform="translate(379.8 291.2) rotate(-90)" font-size="14.5" font-weight="bold" fill="#000" textLength="83.2" lengthAdjust="spacingAndGlyphs">Voltage (μV)</text>
<text transform="translate(379.8 474.2) rotate(-90)" font-size="14.5" font-weight="bold" fill="#000" textLength="82.8" lengthAdjust="spacingAndGlyphs">Voltage (μV)</text>
</svg>
</body></html>
